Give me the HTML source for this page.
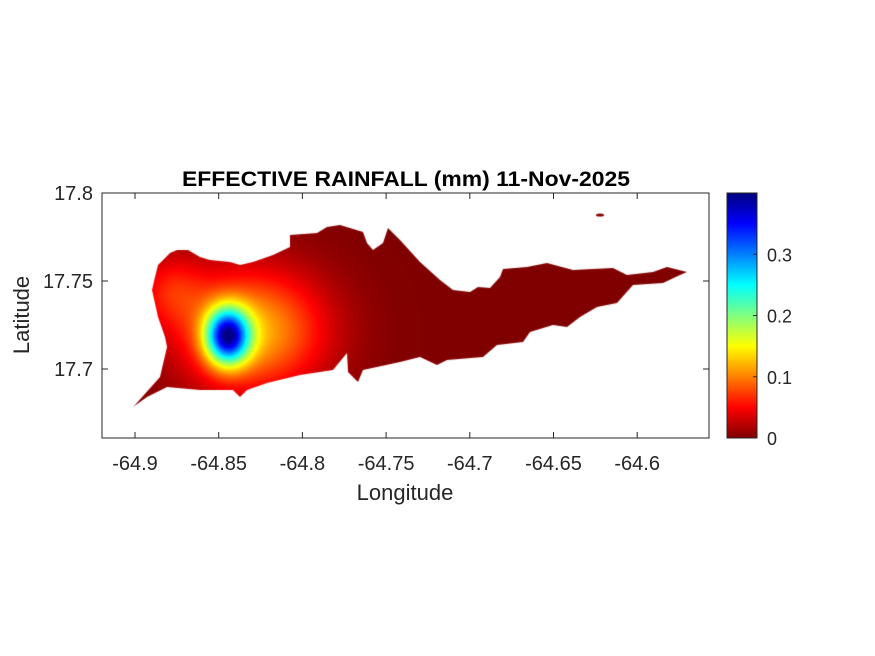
<!DOCTYPE html>
<html><head><meta charset="utf-8"><style>
body{margin:0;background:#fff;width:875px;height:656px;overflow:hidden;font-family:"Liberation Sans",Arial,sans-serif}
svg{position:absolute;left:0;top:0}
canvas{position:absolute;left:0;top:0}
</style></head><body>
<canvas id="cv" width="875" height="656"></canvas>
<svg id="sv" width="875" height="656"></svg>
<script>
// data
const xTicks=[-64.9,-64.85,-64.8,-64.75,-64.7,-64.65,-64.6];
const xTickLabels=["-64.9","-64.85","-64.8","-64.75","-64.7","-64.65","-64.6"];
const yTicks=[17.7,17.75,17.8];
const yTickLabels=["17.7","17.75","17.8"];
const cbTicks=[0,0.1,0.2,0.3];
const cbTickLabels=["0","0.1","0.2","0.3"];
const srcLon=[-64.845,-64.83,-64.879];
const srcLat=[17.719,17.722,17.745];
const srcAmp=[0.3,0.12,0.05];
const srcSigmaLon=[0.009,0.03,0.015];
const srcSigmaLat=[0.011,0.024,0.015];
const cMax=0.4;
// layout
const L=102,R=709,T=193,B=438;
const X=v=>135+(v+64.9)*1674;
const Y=v=>281-(v-17.75)*1760;
const CBL=727,CBR=757;
const CY=v=>438-v/cMax*245;
const ns="http://www.w3.org/2000/svg";
const sv=document.getElementById('sv');
function el(t,a,txt){const e=document.createElementNS(ns,t);for(const k in a)e.setAttribute(k,a[k]);if(txt!==undefined)e.textContent=txt;sv.appendChild(e);return e;}
function jet(v){let t=1-Math.max(0,Math.min(1,v/cMax));const c=x=>Math.round(255*Math.max(0,Math.min(1,1.5-Math.abs(x))));return [c(4*t-3),c(4*t-2),c(4*t-1)];}
function field(lon,lat){let s=0;for(let i=0;i<srcLon.length;i++){const dx=(lon-srcLon[i])/srcSigmaLon[i],dy=(lat-srcLat[i])/srcSigmaLat[i];s+=srcAmp[i]*Math.exp(-(dx*dx+dy*dy)/2);}return s;}
// coastline outline (pixel trace of island shape)
const coast=[[135,405],[160,377],[167,347],[165,337],[158,317],[152,290],[155,277],[158,265],[170,253],[177,250],[188,250],[200,257],[210,260],[230,262],[240,265],[253,262],[273,255],[290,247],[290,235],[317,233],[327,227],[340,225],[363,232],[367,243],[373,250],[383,243],[388,228],[400,240],[420,262],[440,280],[453,290],[470,292],[478,287],[490,288],[500,277],[503,269],[527,267],[547,263],[573,270],[613,268],[627,275],[653,272],[667,267],[687,272],[680,275],[663,283],[633,285],[617,303],[597,307],[580,317],[567,327],[553,325],[530,332],[523,342],[497,345],[483,357],[447,360],[437,365],[420,357],[400,362],[363,370],[358,382],[348,372],[347,353],[333,370],[300,375],[267,383],[247,390],[240,397],[233,390],[200,390],[167,387],[147,397],[133,407]];
const cv=document.getElementById('cv');const ctx=cv.getContext('2d');
const img=ctx.createImageData(R-L,B-T);
for(let py=T;py<B;py++)for(let px=L;px<R;px++){const lon=-64.9+(px-135)/1674,lat=17.75-(py-281)/1760;const c=jet(field(lon,lat));const i=((py-T)*(R-L)+(px-L))*4;img.data[i]=c[0];img.data[i+1]=c[1];img.data[i+2]=c[2];img.data[i+3]=255;}
const off=document.createElement('canvas');off.width=R-L;off.height=B-T;off.getContext('2d').putImageData(img,0,0);
ctx.save();ctx.beginPath();coast.forEach((p,i)=>i?ctx.lineTo(p[0],p[1]):ctx.moveTo(p[0],p[1]));ctx.closePath();
ctx.ellipse(600,215,4,1.5,0,0,Math.PI*2);
ctx.clip();ctx.drawImage(off,L,T);ctx.restore();
// axes box
el('rect',{x:L,y:T,width:R-L,height:B-T,fill:'none',stroke:'#262626','stroke-width':1,});
xTicks.forEach((v,i)=>{const x=X(v);
const t=el('line',{x1:x,x2:x,y1:B,y2:B-6,stroke:'#262626'});
el('line',{x1:x,x2:x,y1:T,y2:T+6,stroke:'#262626'});
const l=el('text',{x:x,y:B+32,'text-anchor':'middle','font-size':20,fill:'#262626'},xTickLabels[i]);
});
yTicks.forEach((v,i)=>{const y=Y(v);
el('line',{x1:L,x2:L+6,y1:y,y2:y,stroke:'#262626'});el('line',{x1:R,x2:R-6,y1:y,y2:y,stroke:'#262626'});
const l=el('text',{x:L-9,y:y+7,'text-anchor':'end','font-size':20,fill:'#262626'},yTickLabels[i]);
});
el('text',{x:406,y:186,'text-anchor':'middle','font-size':21,'font-weight':'bold',fill:'#000',textLength:448,lengthAdjust:'spacingAndGlyphs',},'EFFECTIVE RAINFALL (mm) 11-Nov-2025');
el('text',{x:405,y:500,'text-anchor':'middle','font-size':22,fill:'#262626',},'Longitude');
el('text',{x:29,y:315,'text-anchor':'middle','font-size':22,fill:'#262626',transform:'rotate(-90 29 315)',},'Latitude');
// colorbar
const defs=el('defs',{});const g=document.createElementNS(ns,'linearGradient');g.setAttribute('id','cg');g.setAttribute('x1','0');g.setAttribute('y1','1');g.setAttribute('x2','0');g.setAttribute('y2','0');defs.appendChild(g);
for(let k=0;k<=40;k++){const s=document.createElementNS(ns,'stop');const c=jet(k/40*cMax);s.setAttribute('offset',k/40);s.setAttribute('stop-color',`rgb(${c})`);g.appendChild(s);}
el('rect',{x:CBL,y:T,width:CBR-CBL,height:B-T,fill:'url(#cg)',stroke:'#262626',});
cbTicks.forEach((v,i)=>{const y=CY(v);el('line',{x1:CBR,x2:CBR-4,y1:y,y2:y,stroke:'#262626'});
const l=el('text',{x:CBR+10,y:y+7,'font-size':18,fill:'#262626'},cbTickLabels[i]);
});
</script>
</body></html>
